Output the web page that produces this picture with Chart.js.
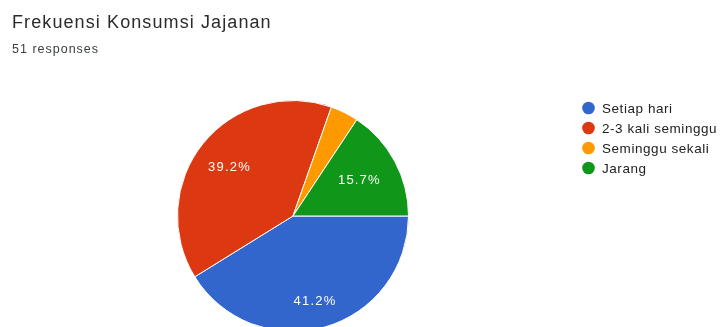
<!DOCTYPE html>
<html>
<head>
<meta charset="utf-8">
<script src="https://cdn.jsdelivr.net/npm/chart.js@4"></script>
<style>
  html, body { margin: 0; padding: 0; background: #fff; overflow: hidden; }
  #wrap { width: 725px; height: 340px; }
</style>
</head>
<body>
<div id="wrap"><canvas id="pieChart" width="725" height="340"></canvas></div>
<script>
// Survey answers
const chartTitle = 'Frekuensi Konsumsi Jajanan';
const responseCount = '51 responses';
const categories = ['Setiap hari', '2-3 kali seminggu', 'Seminggu sekali', 'Jarang'];
const counts = [21, 20, 2, 8];
const sliceColors = ['#3366cc', '#dc3912', '#ff9900', '#109618'];

const font = '"Liberation Sans", Arial, sans-serif';

function setSpacing(ctx, px) {
    if ('letterSpacing' in ctx) ctx.letterSpacing = px + 'px';
}

// Header text and the legend on the right
const headerAndLegend = {
    id: 'headerAndLegend',
    afterDraw(chart) {
        const ctx = chart.ctx;
        ctx.save();
        ctx.textBaseline = 'alphabetic';
        ctx.textAlign = 'left';
        ctx.fillStyle = '#2b2b2b';
        ctx.font = '18px ' + font;
        setSpacing(ctx, 1.1);
        ctx.fillText(chartTitle, 12, 28);
        ctx.fillStyle = '#3c4043';
        ctx.font = '12.5px ' + font;
        setSpacing(ctx, 1);
        ctx.fillText(responseCount, 12, 53);

        ctx.font = '13.5px ' + font;
        setSpacing(ctx, 0.55);
        categories.forEach(function (name, i) {
            const y = 108 + i * 20;
            ctx.fillStyle = sliceColors[i];
            ctx.beginPath();
            ctx.arc(588.5, y, 6.3, 0, Math.PI * 2);
            ctx.fill();
            ctx.fillStyle = '#222';
            ctx.fillText(name, 602, y + 5);
        });
        ctx.restore();
    }
};

// Percentages inside the bigger slices, kept inside an inner ring
const sliceLabels = {
    id: 'sliceLabels',
    afterDatasetsDraw(chart) {
        const ctx = chart.ctx;
        const total = counts.reduce((a, b) => a + b, 0);
        const meta = chart.getDatasetMeta(0);
        ctx.save();
        ctx.fillStyle = '#fff';
        ctx.font = '13px ' + font;
        setSpacing(ctx, 1.2);
        ctx.textAlign = 'center';
        ctx.textBaseline = 'middle';
        meta.data.forEach(function (arc, i) {
            const pct = counts[i] / total * 100;
            if (pct < 5) return;
            const text = pct.toFixed(1) + '%';
            const hw = ctx.measureText(text).width / 2;
            const hh = 6;
            const mid = (arc.startAngle + arc.endAngle) / 2;
            const c = Math.cos(mid), s = Math.sin(mid);
            const d = arc.outerRadius * 0.86 - (hw * Math.abs(c) + hh * Math.abs(s));
            ctx.fillText(text, arc.x + c * d - 2, arc.y + s * d + 1);
        });
        ctx.restore();
    }
};

new Chart(document.getElementById('pieChart'), {
    type: 'pie',
    data: {
        labels: categories,
        datasets: [{
            data: counts,
            backgroundColor: sliceColors,
            borderColor: '#ffffff',
            borderWidth: 1
        }]
    },
    options: {
        responsive: false,
        animation: false,
        rotation: 90,
        layout: { padding: { top: 100, bottom: 8, left: 177, right: 316 } },
        plugins: {
            legend: { display: false },
            tooltip: { enabled: false }
        }
    },
    plugins: [sliceLabels, headerAndLegend]
});
</script>
</body>
</html>
